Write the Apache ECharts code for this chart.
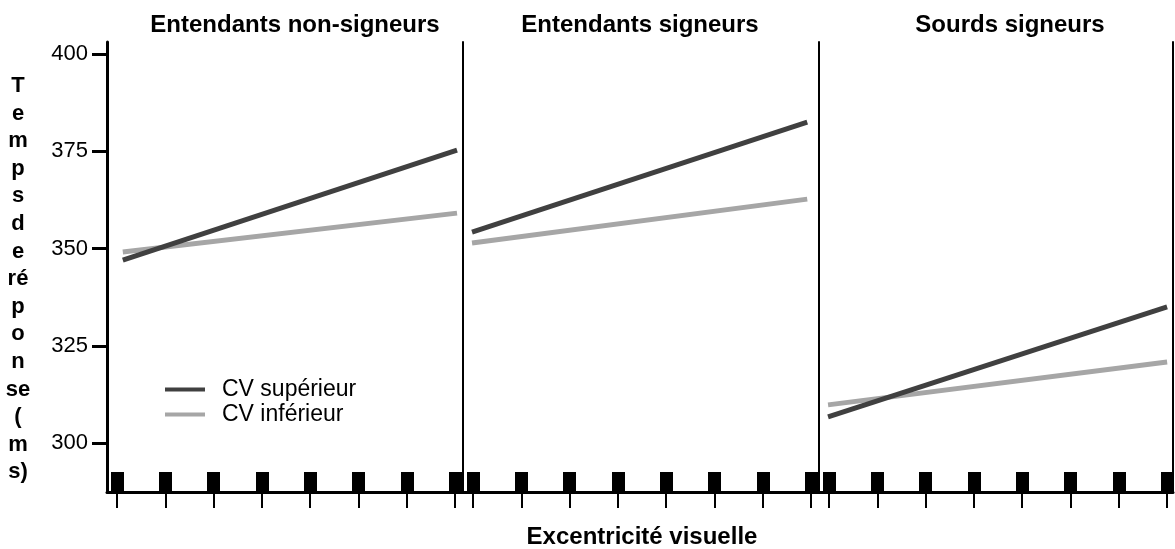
<!DOCTYPE html>
<html>
<head>
<meta charset="utf-8">
<script src="https://cdn.jsdelivr.net/npm/echarts@6/dist/echarts.min.js"></script>
<style>
html,body{margin:0;padding:0;background:#fff;}
#chart{width:1175px;height:549px;}
</style>
</head>
<body>
<div id="chart"></div>
<script>
// ---- data ----
const panelTitles = ['Entendants non-signeurs', 'Entendants signeurs', 'Sourds signeurs'];
const seriesNames = ['CV supérieur', 'CV inférieur'];
const xTicks = [1, 2, 3, 4, 5, 6, 7, 8];
const yTicks = [300, 325, 350, 375, 400];
// fitted line endpoints (x = visual eccentricity position, y = response time ms)
const lineX = [[1.12, 8.04], [0.98, 7.92], [0.98, 8.0]];
const supValues = [[347.0, 375.3], [354.2, 382.5], [306.7, 335.0]];
const infValues = [[349.1, 359.1], [351.4, 362.7], [309.8, 320.8]];
const yLabelLines = ['T','e','m','p','s','d','e','ré','p','o','n','se','(','m','s)'];
const xTitle = 'Excentricité visuelle';

// ---- layout ----
const FONT = '"Liberation Sans", Arial, sans-serif';
const gridLefts = [107, 463, 819];
const gridWidths = [356, 356, 354];
const tickSpacing = 48.3;
const xMin = 1 - 10 / tickSpacing;
const yMin = 287.4, yMax = 403.1;
const darkColor = '#404040', lightColor = '#a6a6a6';

const grids = [], xAxes = [], yAxes = [], series = [];
for (let i = 0; i < 3; i++) {
  grids.push({left: gridLefts[i], width: gridWidths[i], top: 42, height: 450, containLabel: false});
  const xMax = xMin + gridWidths[i] / tickSpacing;
  // main x axis: line + outside ticks
  xAxes.push({
    type: 'value', gridIndex: i, min: xMin, max: xMax, position: 'bottom',
    axisLine: {show: true, onZero: false, lineStyle: {color: '#000', width: 3}},
    axisTick: {show: true, customValues: xTicks, length: 16, lineStyle: {color: '#000', width: 2}},
    axisLabel: {show: false}, splitLine: {show: false}
  });
  // rug marks: inside ticks
  xAxes.push({
    type: 'value', gridIndex: i, min: xMin, max: xMax, position: 'bottom',
    axisLine: {show: false, onZero: false},
    axisTick: {show: true, inside: true, customValues: xTicks, length: 20, lineStyle: {color: '#000', width: 13}},
    axisLabel: {show: false}, splitLine: {show: false}
  });
  const first = i === 0;
  yAxes.push({
    type: 'value', gridIndex: i, min: yMin, max: yMax, position: 'left',
    axisLine: {show: true, onZero: false, lineStyle: {color: '#000', width: first ? 3 : 2}},
    axisTick: {show: first, customValues: yTicks, length: 15, lineStyle: {color: '#000', width: 3}},
    axisLabel: {show: first, customValues: yTicks, fontSize: 22, color: '#000', fontFamily: FONT, margin: 19},
    splitLine: {show: false}
  });
  if (i === 2) {
    yAxes.push({
      type: 'value', gridIndex: i, min: yMin, max: yMax, position: 'right',
      axisLine: {show: true, onZero: false, lineStyle: {color: '#000', width: 2}},
      axisTick: {show: false}, axisLabel: {show: false}, splitLine: {show: false}
    });
  }
}
const lineDefs = [
  {name: seriesNames[1], vals: infValues, color: lightColor},
  {name: seriesNames[0], vals: supValues, color: darkColor}
];
lineDefs.forEach(def => {
  for (let i = 0; i < 3; i++) {
    series.push({
      type: 'line', name: def.name, xAxisIndex: i * 2, yAxisIndex: i,
      data: [[lineX[i][0], def.vals[i][0]], [lineX[i][1], def.vals[i][1]]],
      showSymbol: false, symbol: 'none', silent: true, animation: false,
      lineStyle: {color: def.color, width: 5, cap: 'butt'},
      itemStyle: {color: def.color}
    });
  }
});

const titleCenters = [295, 640, 1010];
const graphics = panelTitles.map((t, i) => ({
  type: 'text', x: titleCenters[i], y: 25,
  style: {text: t, font: 'bold 24px ' + FONT, fill: '#000', align: 'center', verticalAlign: 'middle'}
}));
graphics.push({
  type: 'text', x: 642, y: 537,
  style: {text: xTitle, font: 'bold 24px ' + FONT, fill: '#000', align: 'center', verticalAlign: 'middle'}
});
yLabelLines.forEach((t, k) => {
  graphics.push({
    type: 'text', x: 18, y: 86 + k * 27.6,
    style: {text: t, font: 'bold 22px ' + FONT, fill: '#000', align: 'center', verticalAlign: 'middle'}
  });
});

const chart = echarts.init(document.getElementById('chart'), null, {renderer: 'canvas'});
chart.setOption({
  animation: false,
  backgroundColor: '#fff',
  grid: grids, xAxis: xAxes, yAxis: yAxes, series: series,
  legend: {
    data: seriesNames, orient: 'vertical', left: 165, top: 378, padding: 0,
    icon: 'rect', itemWidth: 40, itemHeight: 4, itemGap: 2,
    textStyle: {fontSize: 23, color: '#000', fontFamily: FONT, lineHeight: 23, padding: [0, 0, 0, 12]},
    selectedMode: false
  },
  graphic: graphics
});
</script>
</body>
</html>
